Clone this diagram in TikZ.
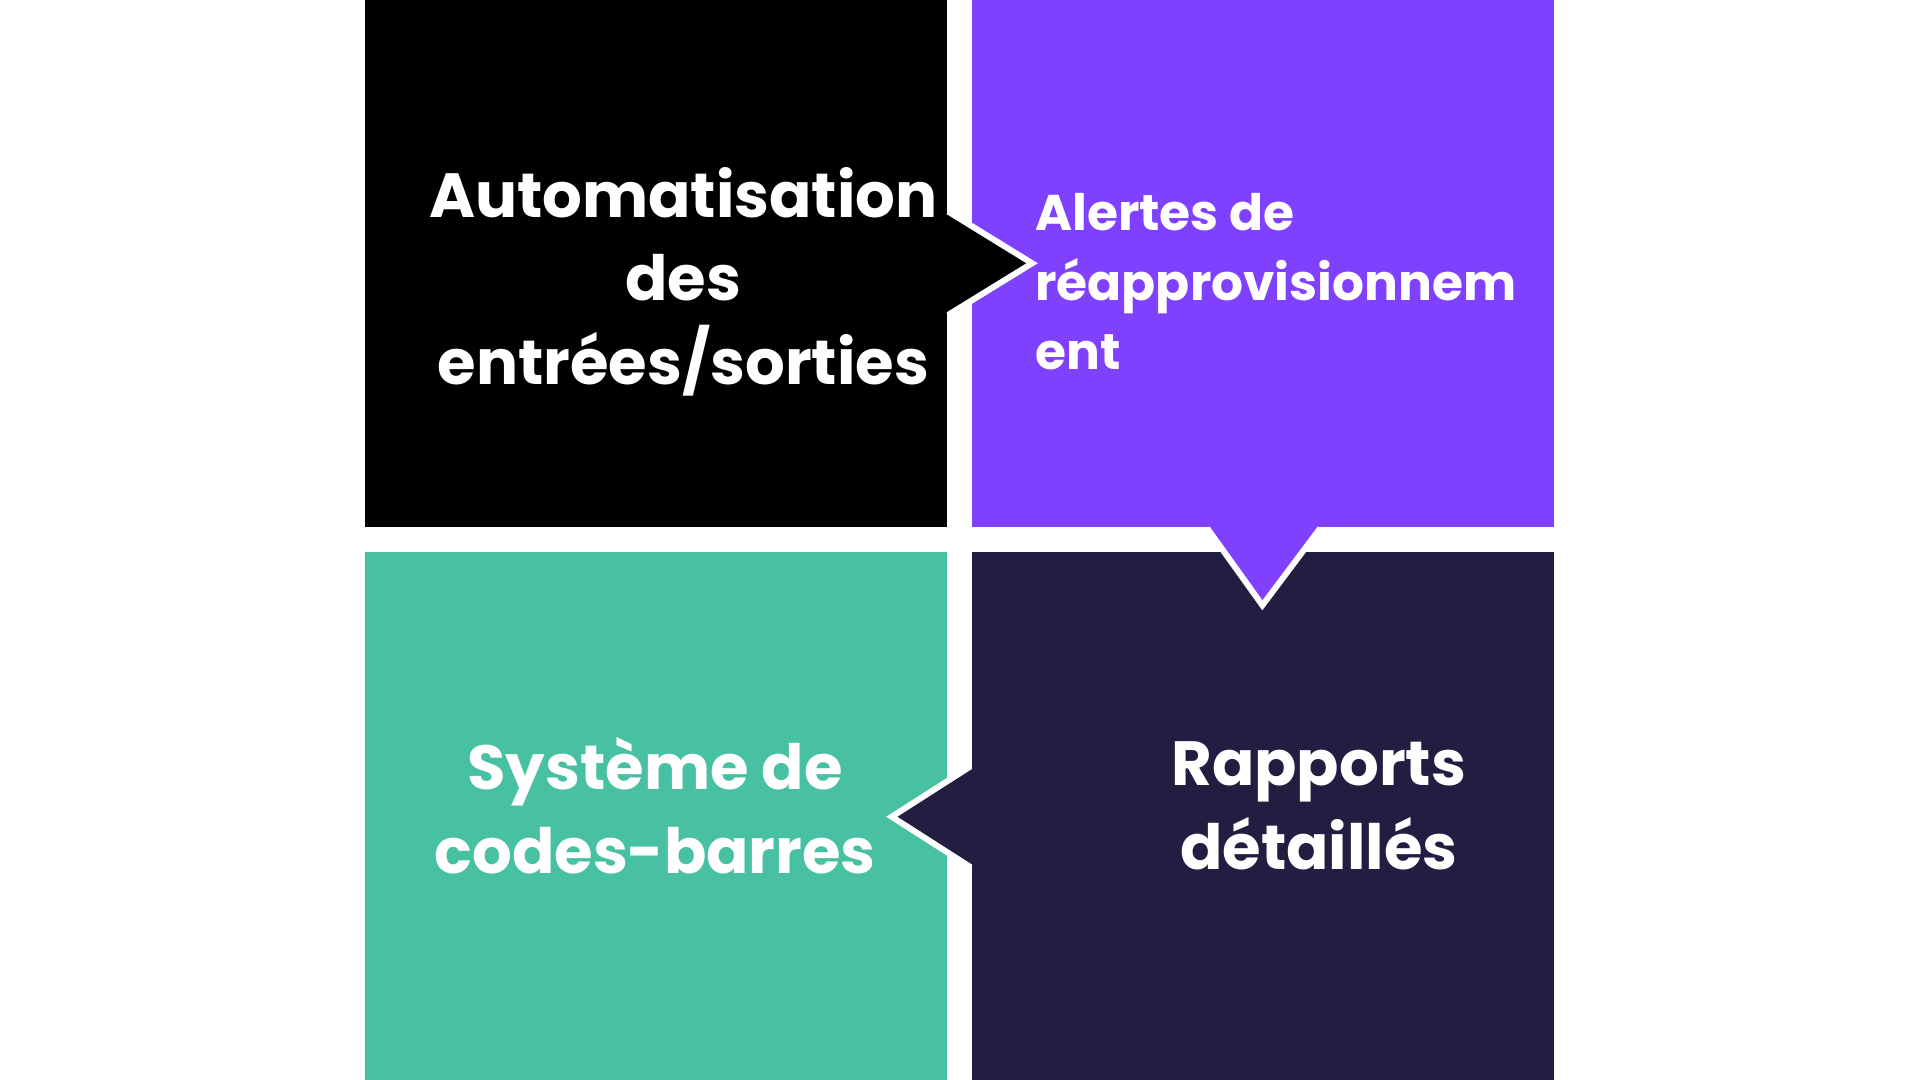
\documentclass[tikz,border=0pt]{standalone}
\usepackage{fontspec}
\setmainfont{Poppins}[UprightFont=* Bold]
\definecolor{tilepurple}{HTML}{8041FF}
\definecolor{tilenavy}{HTML}{231D42}
\definecolor{tilegreen}{HTML}{48C0A2}
\tikzset{
  notch/.style={draw=white, line width=10pt, line join=miter},
  bigtxt/.style={text=white, align=center, font=\fontsize{51}{68}\selectfont},
  smalltxt/.style={text=white, align=left, font=\fontsize{41}{57}\selectfont}
}
\begin{document}
\begin{tikzpicture}[x=1pt, y=-1pt]
  \useasboundingbox[fill=white] (0,0) rectangle (1568,882);
  % tiles
  \fill[black]      (298,0)   rectangle (773,430);
  \fill[tilepurple] (794,0)   rectangle (1269,430);
  \fill[tilegreen]  (298,451) rectangle (773,882);
  \fill[tilenavy]   (794,451) rectangle (1269,882);
  % arrow notches
  \draw[notch] (773,175) -- (838,215) -- (773,255);
  \fill[black] (760,175) -- (773,175) -- (838,215) -- (773,255) -- (760,255) -- cycle;
  \draw[notch] (988,430) -- (1031,490) -- (1076,430);
  \fill[tilepurple] (988,420) -- (988,430) -- (1031,490) -- (1076,430) -- (1076,420) -- cycle;
  \draw[notch] (794,628) -- (733,667) -- (794,706);
  \fill[tilenavy] (807,628) -- (794,628) -- (733,667) -- (794,706) -- (807,706) -- cycle;
  % labels
  \node[bigtxt] (auto) at (558,230) {Automatisation\\des\\entrées/sorties};
  \node[smalltxt, anchor=west] (alert) at (842,230) {Alertes de\\réapprovisionnem\\ent};
  \node[bigtxt] (codes) at (535,658) {Système de\\codes-barres};
  \node[bigtxt] (rapp) at (1077,658) {Rapports\\détaillés};
\end{tikzpicture}
\end{document}
